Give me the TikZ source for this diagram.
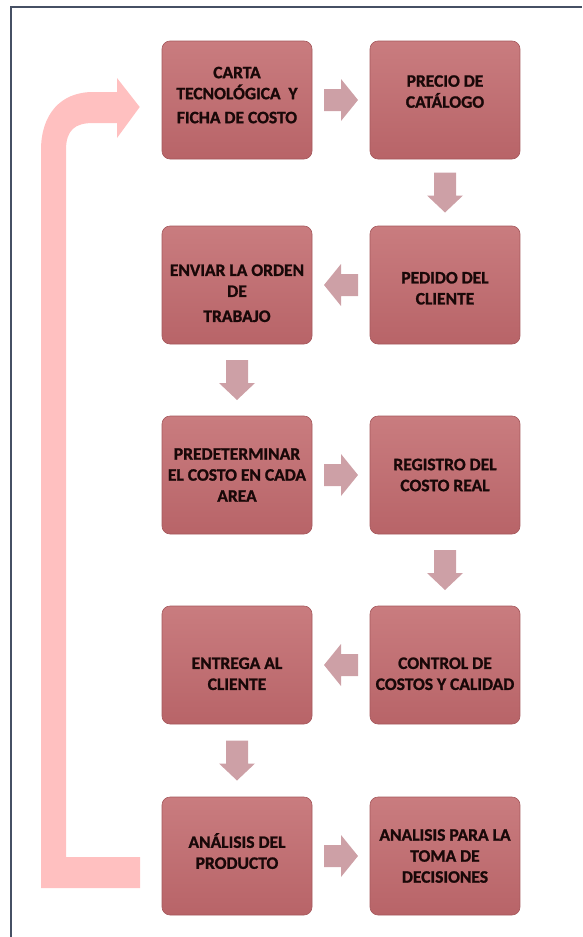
\documentclass[tikz,border=0pt]{standalone}
\usepackage{fontspec}
\setmainfont{Carlito}[BoldFeatures={FakeBold=1.2}]
\usetikzlibrary{calc}
\definecolor{boxtop}{RGB}{201,124,127}
\definecolor{boxbot}{RGB}{184,100,104}
\definecolor{boxedge}{RGB}{165,88,92}
\definecolor{txtcol}{RGB}{25,8,8}
\definecolor{arrcol}{RGB}{205,160,166}
\definecolor{loopcol}{RGB}{255,192,192}
\definecolor{framecol}{RGB}{70,80,100}
\tikzset{
  stepbox/.style={rectangle, rounded corners=8pt, minimum width=150pt, minimum height=118pt,
    top color=boxtop, bottom color=boxbot, draw=boxedge, line width=0.6pt,
    align=center, text=txtcol, font=\fontsize{17.5}{21}\selectfont\bfseries, inner sep=2pt},
  harr/.pic={\fill[arrcol] (-17,-11) -- (0,-11) -- (0,-21) -- (17,0) -- (0,21) -- (0,11) -- (-17,11) -- cycle;},
  varr/.pic={\fill[arrcol] (-20,-11) -- (3,-11) -- (3,-18) -- (20,0) -- (3,18) -- (3,11) -- (-20,11) -- cycle;}
}
\begin{document}
\begin{tikzpicture}[x=1pt,y=-1pt]
\useasboundingbox (0,0) rectangle (582,937);
% frame
\draw[framecol, line width=1.4pt] (11,937) -- (11,7) -- (582,7);
% nodes
\node[stepbox] (n1) at (237,100) {CARTA\\TECNOLÓGICA\ \ Y\\[3pt]FICHA DE COSTO\\[-11pt]};
\node[stepbox] (n2) at (445,100) {PRECIO DE\\CATÁLOGO\\[-4pt]};
\node[stepbox] (n3) at (445,285) {\mbox{}\\[-3pt]PEDIDO DEL\\CLIENTE};
\node[stepbox] (n4) at (237,285) {\mbox{}\\[7pt]ENVIAR LA ORDEN\\DE\\[4pt]TRABAJO};
\node[stepbox] (n5) at (237,475) {PREDETERMINAR\\EL COSTO EN CADA\\AREA};
\node[stepbox] (n6) at (445,475) {REGISTRO DEL\\COSTO REAL};
\node[stepbox] (n7) at (445,665) {\mbox{}\\[8pt]CONTROL DE\\COSTOS Y CALIDAD};
\node[stepbox] (n8) at (237,665) {\mbox{}\\[8pt]ENTREGA AL\\CLIENTE};
\node[stepbox] (n9) at (237,856) {ANÁLISIS DEL\\PRODUCTO\\[-11pt]};
\node[stepbox] (n10) at (445,856) {ANALISIS PARA LA\\TOMA DE\\DECISIONES};
% block arrows between nodes
\pic at ($(n1.east)!0.5!(n2.west)$) {harr};
\pic[rotate=-90] at ($(n2.south)!0.5!(n3.north)$) {varr};
\pic[rotate=180] at ($(n3.west)!0.5!(n4.east)$) {harr};
\pic[rotate=-90] at ($(n4.south)!0.5!(n5.north)$) {varr};
\pic at ($(n5.east)!0.5!(n6.west)$) {harr};
\pic[rotate=-90] at ($(n6.south)!0.5!(n7.north)$) {varr};
\pic[rotate=180] at ($(n7.west)!0.5!(n8.east)$) {harr};
\pic[rotate=-90] at ($(n8.south)!0.5!(n9.north)$) {varr};
\pic at ($(n9.east)!0.5!(n10.west)$) {harr};
% big feedback arrow
\coordinate (looptip) at ($(n1.west)+(-22,7)$);
\fill[loopcol] (41,888) -- (140,888) -- (140,857) -- (66,857) -- (66,150)
  .. controls (66,130) and (75,123) .. (93,123) -- (117,123) -- (117,138)
  -- (looptip) -- (117,78) -- (117,92) -- (93,92)
  .. controls (60,92) and (41,115) .. (41,150) -- cycle;
\end{tikzpicture}
\end{document}
